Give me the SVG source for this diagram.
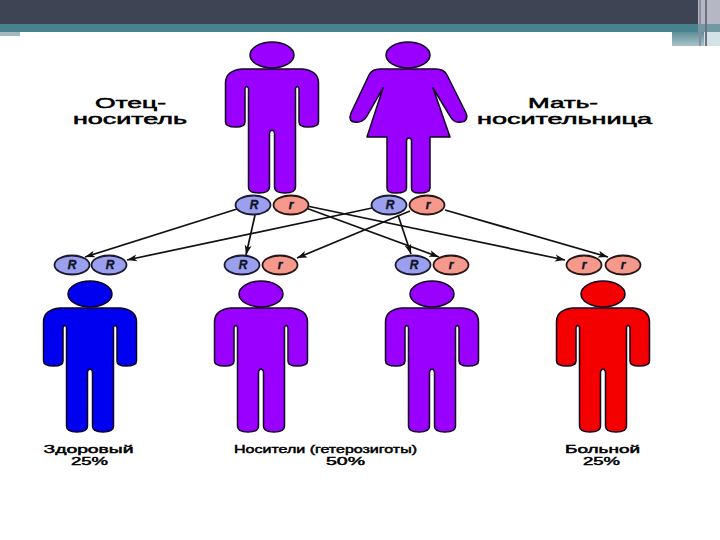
<svg xmlns="http://www.w3.org/2000/svg" width="720" height="540" viewBox="0 0 720 540">
<style>
.t{font-family:"Liberation Sans",Arial,sans-serif;fill:#000;stroke:#000}
.a{font-size:14px;stroke-width:.5}.b{font-size:10.500px;stroke-width:.45}
.g{font-family:"Liberation Sans",Arial,sans-serif;font-size:12px;font-weight:bold;font-style:italic;text-anchor:middle;fill:#14142a;stroke:#14142a;stroke-width:.4}
.cR{fill:#9aa0ee;stroke:#1a1a30;stroke-width:1.800}
.cr{fill:#f4998c;stroke:#2a1515;stroke-width:1.800}
.fig{stroke:#100020;stroke-width:1.500;stroke-linejoin:round}
.p{fill:#9a00ff}.bl{fill:#0000f0}.rd{fill:#f40000}
.l{stroke:#111;stroke-width:1.700;fill:none;marker-end:url(#ah)}
</style>
<defs>
<marker id="ah" markerUnits="userSpaceOnUse" markerWidth="11" markerHeight="9" refX="10" refY="4.500" orient="auto"><path d="M0 1L10 4.500L0 8L2.500 4.500z" fill="#111"/></marker>
<g id="man">
<ellipse cx="0" cy="-14" rx="22" ry="13"/>
<path d="M-30 0H30C40 1 46.500 5 46.500 14V53C46.500 56 43 58 36 58C30 58 27 56 27 53V20C27 18 25.500 17 25 18C24 18 23.500 18 23.500 20V118C23.500 122 20 124 13 124C6 124 2.500 122 2.500 118V65C2.500 60 -2.500 60 -2.500 65V118C-2.500 122 -6 124 -13 124C-20 124 -23.500 122 -23.500 118V20C-23.500 18 -24 18 -25 18C-25.500 17 -27 18 -27 20V53C-27 56 -30 58 -36 58C-43 58 -46.500 56 -46.500 53V14C-46.500 5 -40 1 -30 0Z"/>
</g>
<linearGradient id="bar" x1="0" x2="0" y1="0" y2="1"><stop offset="0" stop-color="#5f8f9a"/><stop offset="1" stop-color="#a9c4c9"/></linearGradient>
</defs>
<rect width="720" height="540" fill="#fff"/>
<g id="header">
<rect width="720" height="24" fill="#3f4454"/>
<rect y="24" width="720" height="8" fill="#47828f"/>
<rect y="32" width="20" height="4" fill="#a3b9bf"/>
<rect x="672" y="32" width="32" height="14" fill="url(#bar)"/>
<rect x="698" width="22" height="24" fill="#b5b8c4"/>
<rect x="698" y="24" width="22" height="8" fill="#6f9aa4"/>
<rect x="704" y="32" width="16" height="14" fill="#d5e2e5"/>
<rect x="699" width="2" height="46" fill="#8a8e9c"/>
<rect x="705" width="2" height="46" fill="#6c7080"/>
</g>
<g id="connectors">
<line class="l" x1="237" y1="209" x2="85" y2="257"/>
<line class="l" x1="372" y1="208" x2="127" y2="260"/>
<line class="l" x1="255" y1="215" x2="246" y2="255"/>
<line class="l" x1="410" y1="211" x2="297" y2="258"/>
<line class="l" x1="306" y1="208" x2="439" y2="257"/>
<line class="l" x1="307" y1="206" x2="565" y2="260"/>
<line class="l" x1="398" y1="215" x2="411" y2="254"/>
<line class="l" x1="445" y1="210" x2="608" y2="257"/>
</g>
<g id="father"><use href="#man" x="272" y="69" class="fig p"/>
<text class="t a" x="95" y="107.500" textLength="71" lengthAdjust="spacingAndGlyphs">Отец-</text>
<text class="t a" x="73" y="124" textLength="114" lengthAdjust="spacingAndGlyphs">носитель</text></g>
<g id="mother" class="fig p">
<ellipse cx="408" cy="55" rx="22" ry="13"/>
<path d="M380 69H436C442 69 445 71 447 75L466 113C468 118 466 122 461 122C456 123 452 120 450 116L433 88L450 137H430V188C430 192 426 193 419 193C414 193 411.500 192 411.500 188V141C411.500 137 406.500 137 406.500 141V188C406.500 192 403 193 396 193C390 193 387 192 387 188V137H367L383 88L367 116C365 120 360 123 355 122C350 122 349 118 351 113L369 75C371 71 374 69 380 69Z"/>
</g>
<g id="mother-label">
<text class="t a" x="528" y="107.500" textLength="70" lengthAdjust="spacingAndGlyphs">Мать-</text>
<text class="t a" x="477" y="124" textLength="175" lengthAdjust="spacingAndGlyphs">носительница</text></g>
<g id="father-genes">
<ellipse class="cR" cx="253" cy="205" rx="17.500" ry="9.500"/><text class="g" x="254" y="209">R</text>
<ellipse class="cr" cx="291" cy="205" rx="17.500" ry="9.500"/><text class="g" x="291" y="209">r</text></g>
<g id="mother-genes">
<ellipse class="cR" cx="389" cy="205" rx="17.500" ry="9.500"/><text class="g" x="390" y="209">R</text>
<ellipse class="cr" cx="427" cy="205" rx="17.500" ry="9.500"/><text class="g" x="428" y="209">r</text></g>
<g id="child-healthy">
<ellipse class="cR" cx="72" cy="265" rx="17.500" ry="9.500"/><text class="g" x="72" y="269">R</text>
<ellipse class="cR" cx="109" cy="265" rx="17.500" ry="9.500"/><text class="g" x="110" y="269">R</text>
<use href="#man" x="90" y="308" class="fig bl"/>
<text class="t b" x="43.500" y="452.500" textLength="90" lengthAdjust="spacingAndGlyphs">Здоровый</text>
<text class="t b" x="71" y="464.500" textLength="37" lengthAdjust="spacingAndGlyphs">25%</text></g>
<g id="child-carrier-1">
<ellipse class="cR" cx="242" cy="265" rx="17.500" ry="9.500"/><text class="g" x="243" y="269">R</text>
<ellipse class="cr" cx="280" cy="265" rx="17.500" ry="9.500"/><text class="g" x="280" y="269">r</text>
<use href="#man" x="261" y="308" class="fig p"/></g>
<g id="child-carrier-2">
<ellipse class="cR" cx="413" cy="265" rx="17.500" ry="9.500"/><text class="g" x="414" y="269">R</text>
<ellipse class="cr" cx="451" cy="265" rx="17.500" ry="9.500"/><text class="g" x="451" y="269">r</text>
<use href="#man" x="432" y="308" class="fig p"/></g>
<g id="carrier-label">
<text class="t b" x="234" y="452.500" textLength="183" lengthAdjust="spacingAndGlyphs">Носители (гетерозиготы)</text>
<text class="t b" x="326" y="464.500" textLength="39" lengthAdjust="spacingAndGlyphs">50%</text></g>
<g id="child-sick">
<ellipse class="cr" cx="584" cy="265" rx="17.500" ry="9.500"/><text class="g" x="584" y="269">r</text>
<ellipse class="cr" cx="623" cy="265" rx="17.500" ry="9.500"/><text class="g" x="623" y="269">r</text>
<use href="#man" x="603" y="308" class="fig rd"/>
<text class="t b" x="565" y="452.500" textLength="75" lengthAdjust="spacingAndGlyphs">Больной</text>
<text class="t b" x="583" y="464.500" textLength="37" lengthAdjust="spacingAndGlyphs">25%</text></g>
</svg>
